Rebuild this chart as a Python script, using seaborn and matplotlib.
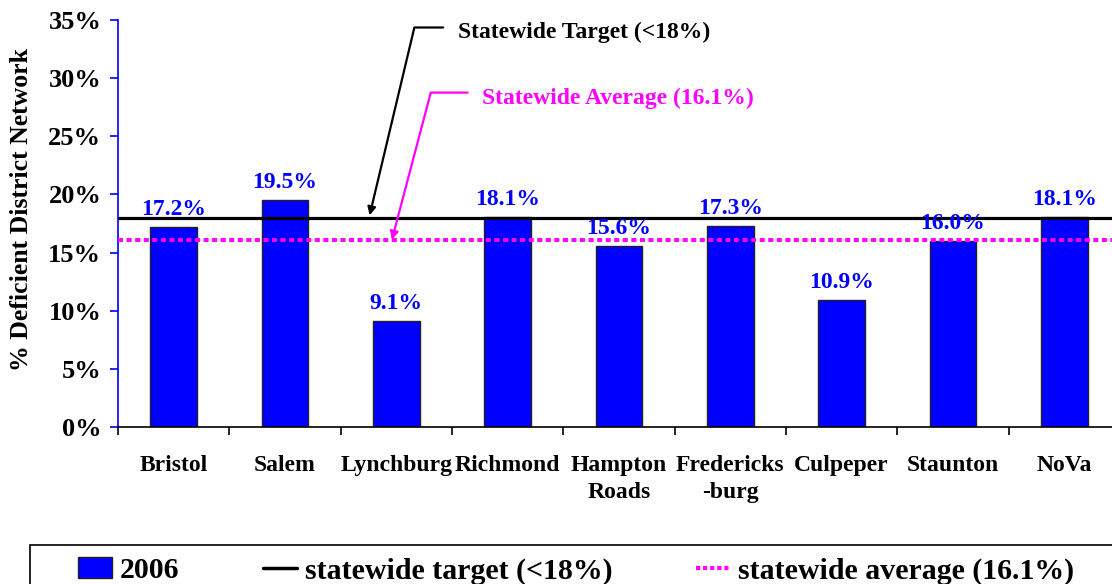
import numpy as np
import pandas as pd
import matplotlib
matplotlib.use("Agg")
import matplotlib.pyplot as plt
import seaborn as sns
from matplotlib.lines import Line2D
from matplotlib.patches import Patch, Rectangle

# data
districts = ["Bristol", "Salem", "Lynchburg", "Richmond", "Hampton\nRoads",
             "Fredericks\n-burg", "Culpeper", "Staunton", "NoVa"]
deficient_2006 = [17.2, 19.5, 9.1, 18.1, 15.6, 17.3, 10.9, 16.0, 18.1]
statewide_target = 18.0
statewide_average = 16.1
y_ticks = [0, 5, 10, 15, 20, 25, 30, 35]

sns.set_style("white")
plt.rcParams["font.family"] = ["Liberation Serif", "DejaVu Serif"]
plt.rcParams["font.weight"] = "bold"
plt.rcParams["text.color"] = "black"
plt.rcParams["axes.labelcolor"] = "black"
plt.rcParams["xtick.color"] = "black"
plt.rcParams["ytick.color"] = "black"

BLUE = "#0000FF"
MAGENTA = "#FF00FF"

fig = plt.figure(figsize=(11.12, 5.84), dpi=100)
W, H = 1112, 584
# axes: left 118px, right ~1120px, top 20px, bottom 427px
ax = fig.add_axes([118 / W, 1 - 427 / H, (1120 - 118) / W, (427 - 20) / H])

df = pd.DataFrame({"district": districts, "value": deficient_2006})
sns.barplot(data=df, x="district", y="value", color=BLUE, saturation=1,
            width=0.42, edgecolor="#222222", linewidth=1, ax=ax, zorder=2)

ax.set_xlim(-0.5, len(districts) - 0.5)
ax.set_ylim(0, 35)

# value labels
for i, v in enumerate(deficient_2006):
    ax.annotate(f"{v:.1f}%", (i, v), xytext=(0, 5), textcoords="offset points",
                ha="center", va="bottom", color=BLUE, fontsize=17,
                fontweight="bold", zorder=5)

# reference lines
ax.axhline(statewide_target, color="black", lw=2.3, zorder=3)
ax.axhline(statewide_average, color=MAGENTA, lw=2.8, dashes=(1.3, 0.9), zorder=4)

# callouts
ax.annotate("Statewide Target (<18%)", xy=(1.76, statewide_target + 0.2),
            xytext=(2.55, 33.9), ha="left", va="center", fontsize=17,
            fontweight="bold", color="black",
            arrowprops=dict(arrowstyle="-|>", color="black", lw=1.6,
                            connectionstyle="angle,angleA=0,angleB=76.6,rad=0",
                            relpos=(0, 0.75), shrinkA=8, shrinkB=0,
                            mutation_scale=12))
ax.annotate("Statewide Average (16.1%)", xy=(1.96, statewide_average),
            xytext=(2.77, 28.3), ha="left", va="center", fontsize=17,
            fontweight="bold", color=MAGENTA,
            arrowprops=dict(arrowstyle="-|>", color=MAGENTA, lw=1.6,
                            connectionstyle="angle,angleA=0,angleB=75.2,rad=0",
                            relpos=(0, 0.75), shrinkA=8, shrinkB=0,
                            mutation_scale=12))

# axes styling
sns.despine(ax=ax)
ax.spines["left"].set_color(BLUE)
ax.spines["left"].set_linewidth(1.2)
ax.spines["bottom"].set_color("black")
ax.spines["bottom"].set_linewidth(1.2)

ax.set_yticks(y_ticks)
ax.set_yticklabels([f"{t}%" for t in y_ticks])
ax.tick_params(axis="y", direction="out", length=6, width=1.2, color=BLUE,
               labelsize=19, pad=6, left=True)
ax.set_xticks(range(len(districts)))
ax.set_xticks(np.arange(-0.5, len(districts)), minor=True)
ax.tick_params(axis="x", which="major", length=0, labelsize=17, pad=20)
ax.tick_params(axis="x", which="minor", direction="out", length=6, width=1.2,
               color="black", bottom=True)
for lab in ax.get_xticklabels():
    lab.set_linespacing(1.4)
for lab in ax.get_xticklabels() + ax.get_yticklabels():
    lab.set_fontweight("bold")

ax.set_xlabel("")
ax.set_ylabel("% Deficient District Network", fontsize=18.5, fontweight="bold")
ax.yaxis.set_label_coords(-0.085, 0.535)

# legend at the bottom, its box cut by the figure edge like the original
fig.patches.append(Rectangle((30 / W, -0.2), 1.2, 0.2 + (1 - 545 / H),
                             transform=fig.transFigure, facecolor="white",
                             edgecolor="black", lw=1.2))
handles = [Patch(facecolor=BLUE, edgecolor="#222222", lw=1),
           Line2D([], [], color="black", lw=2.5),
           Line2D([], [], color=MAGENTA, lw=3, dashes=(1.0, 0.7))]
labels = ["2006", "statewide target (<18%)", "statewide average (16.1%)"]
leg = fig.legend(handles, labels, loc="center left", ncol=3,
                 bbox_to_anchor=(78 / W, 1 - 571 / H),
                 borderaxespad=0, borderpad=0, frameon=False,
                 handlelength=1.15, handletextpad=0.25, columnspacing=2.8,
                 prop={"weight": "bold", "size": 21.5})

fig.savefig("out.png", dpi=100)
